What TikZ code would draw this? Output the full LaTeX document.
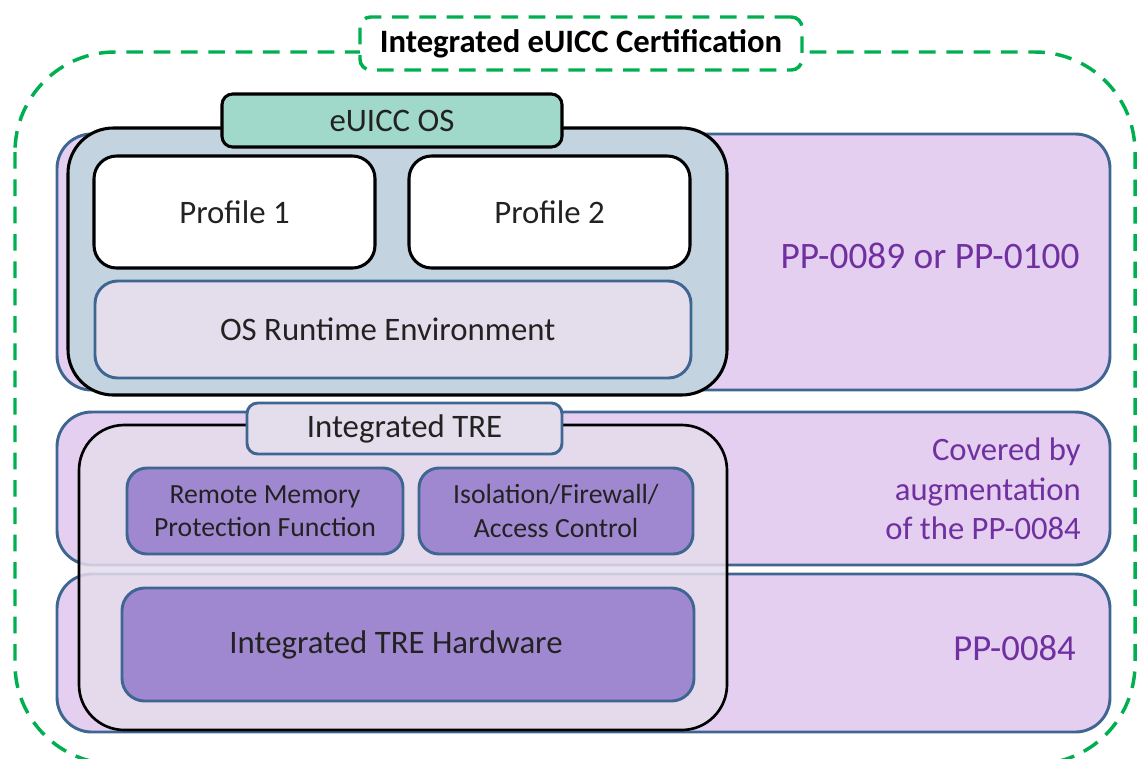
\documentclass[tikz,border=0pt]{standalone}
\usepackage{fontspec}
\setmainfont{Carlito}
\definecolor{bandfill}{HTML}{E4CFF1}
\definecolor{bandline}{HTML}{3F6591}
\definecolor{osfill}{HTML}{C3D3E0}
\definecolor{tabteal}{HTML}{A0D9C9}
\definecolor{rtfill}{HTML}{E4DEEC}
\definecolor{purplebox}{HTML}{A088D0}
\definecolor{trefill}{HTML}{E5DCEC}
\definecolor{certgreen}{HTML}{00B050}
\definecolor{pptext}{HTML}{7030A0}
\definecolor{txt}{HTML}{222222}
\newcommand{\bxn}[7]{%
  \pgfmathsetmacro\bxw{(#5-#3)*0.75}%
  \pgfmathsetmacro\bxh{(#6-#4)*0.75}%
  \node[#1, minimum width=\bxw pt, minimum height=\bxh pt] (#2) at ({(#3+#5)/2},{(#4+#6)/2}) {#7};}
\tikzset{
  bx/.style={rectangle, inner sep=0pt, outer sep=0pt, align=center, text=txt},
  band/.style={bx, draw=bandline, line width=2.2pt, fill=bandfill, rounded corners=26pt},
  blk/.style={bx, draw=black, line width=2.3pt},
  blu/.style={bx, draw=bandline, line width=2.2pt},
  mainfont/.style={font=\fontsize{24.6}{29}\selectfont},
  smallfont/.style={font=\fontsize{20.8}{25}\selectfont},
  pplabel/.style={text=pptext, inner sep=0pt, align=right},
  greendash/.style={draw=certgreen, line width=2.6pt, dash pattern=on 12.5pt off 8pt}
}
\begin{document}
\begin{tikzpicture}[x=0.75pt,y=-0.75pt]
\useasboundingbox (0,0) rectangle (1137,758);
\clip (0,0) rectangle (1137,758);
% outer certification boundary
\draw[greendash, rounded corners=75pt] (15,52) rectangle (1135,764);
% bands
\bxn{band}{band1}{57}{134}{1110}{390}{}
\bxn{band}{band2}{57}{412}{1110}{565}{}
\bxn{band}{band3}{57}{574}{1110}{732}{}
% eUICC OS container
\bxn{blk, fill=osfill, rounded corners=34pt}{os}{68}{128}{727}{395}{}
\bxn{blk, fill=tabteal, rounded corners=8pt, mainfont}{ostab}{222}{94}{562}{147}{eUICC OS}
\bxn{blk, fill=white, rounded corners=17pt, mainfont}{p1}{94}{156}{375}{268}{Profile 1}
\bxn{blk, fill=white, rounded corners=17pt, mainfont}{p2}{409}{156}{690}{268}{Profile 2}
\bxn{blu, fill=rtfill, rounded corners=17pt, mainfont}{rt}{95}{281}{691}{378}{\hspace*{-8pt}OS Runtime Environment}
% Integrated TRE container
\bxn{blk, line width=2pt, fill=trefill, fill opacity=0.85, text opacity=1, rounded corners=34pt}{tre}{79}{425}{727}{730}{}
\bxn{blu, fill=rtfill, rounded corners=8pt, mainfont}{tretab}{247}{403}{562}{454}{Integrated TRE}
\bxn{blu, fill=purplebox, rounded corners=15pt, smallfont}{rmpf}{127}{468}{403}{554}{Remote Memory\\Protection Function}
\bxn{blu, fill=purplebox, rounded corners=15pt, smallfont}{iso}{419}{468}{693}{554}{Isolation/Firewall/\\Access Control}
\bxn{blu, fill=purplebox, rounded corners=17pt, mainfont}{hw}{122}{588}{694}{701}{\hspace*{-18pt}Integrated TRE Hardware}
% band labels
\node[pplabel, font=\fontsize{28}{32}\selectfont] (l1) at (930,256) {PP-0089 or PP-0100};
\node[pplabel, anchor=east, font=\fontsize{24.5}{29.6}\selectfont] (l2) at (1081,489) {Covered by\\augmentation\\of the PP-0084};
\node[pplabel, anchor=east, font=\fontsize{27.5}{31}\selectfont] (l3) at (1076,648) {PP-0084};
% certification title
\bxn{bx, greendash, fill=white, rounded corners=8pt, font=\fontsize{24.5}{28}\selectfont\bfseries, text=black}{cert}{360}{17}{802}{70}{\raisebox{-2pt}{Integrated eUICC Certification}}
\end{tikzpicture}
\end{document}
